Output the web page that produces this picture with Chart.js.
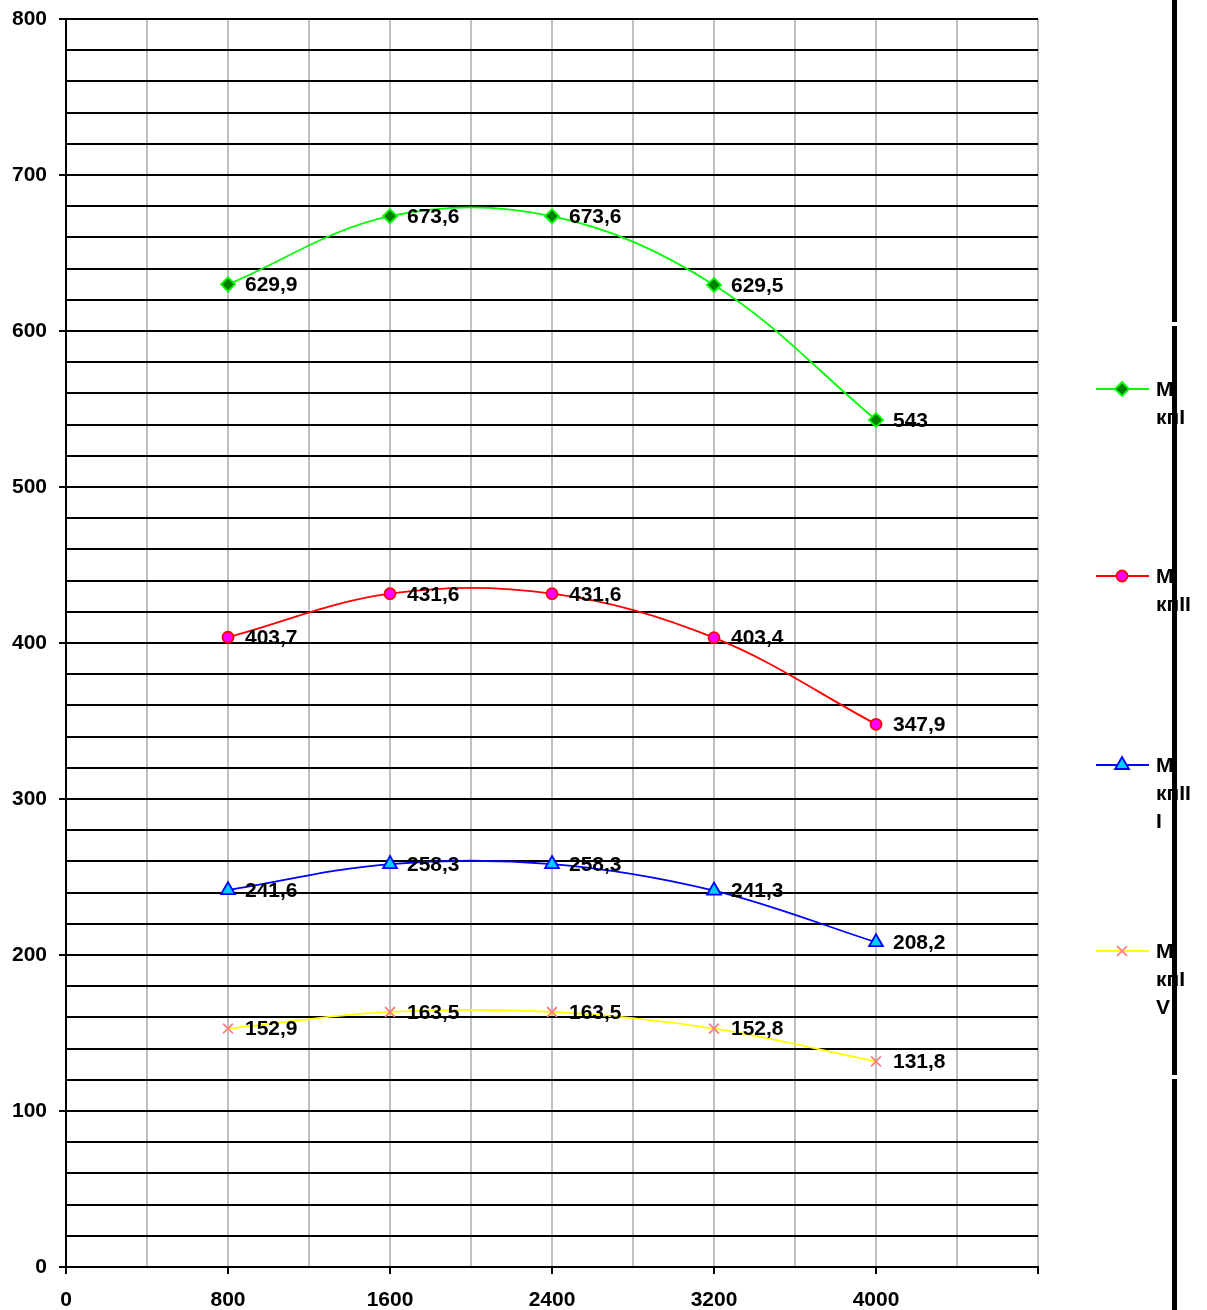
<!DOCTYPE html>
<html>
<head>
<meta charset="utf-8">
<title>М кп</title>
<script src="https://cdn.jsdelivr.net/npm/chart.js@4/dist/chart.umd.min.js"></script>
<style>
  html, body { margin: 0; padding: 0; background: #ffffff; }
  #wrap { position: relative; width: 1207px; height: 1310px; }
</style>
</head>
<body>
<div id="wrap"><canvas id="chart"></canvas></div>
<script>
// Engine speed, rpm
const speeds = [800, 1600, 2400, 3200, 4000];

// Torque per gear
const gear1 = [629.9, 673.6, 673.6, 629.5, 543];
const gear2 = [403.7, 431.6, 431.6, 403.4, 347.9];
const gear3 = [241.6, 258.3, 258.3, 241.3, 208.2];
const gear4 = [152.9, 163.5, 163.5, 152.8, 131.8];

const seriesNames = ['М кпI', 'М кпII', 'М кпIII', 'М кпIV'];

const FONT = '"Liberation Sans", Arial, sans-serif';
const FONT_SIZE = 21;

function toPoints(values) {
  return speeds.map((s, i) => ({ x: s, y: values[i] }));
}

const styles = [
  { line: '#00ff00', fill: '#008000', border: '#00ff00', shape: 'rectRot', r: 7 },
  { line: '#ff0000', fill: '#ff00ff', border: '#ff0000', shape: 'circle', r: 5.5 },
  { line: '#0000ff', fill: '#00ccff', border: '#0000ff', shape: 'triangle', r: 8 },
  { line: '#ffff00', fill: '#ff8080', border: '#ff8080', shape: 'crossRot', r: 7 }
];
const seriesValues = [gear1, gear2, gear3, gear4];

const datasets = seriesValues.map((vals, i) => ({
  label: seriesNames[i],
  data: toPoints(vals),
  borderColor: styles[i].line,
  borderWidth: 1.8,
  backgroundColor: styles[i].fill,
  pointStyle: styles[i].shape,
  pointRadius: styles[i].r,
  pointBackgroundColor: styles[i].fill,
  pointBorderColor: styles[i].border,
  pointBorderWidth: 1.8,
  tension: 0.36,
  fill: false
}));

function fmt(v) {
  return String(v).replace('.', ',');
}

// Value labels beside each marker
const valueLabels = {
  id: 'valueLabels',
  afterDatasetsDraw(chart) {
    const ctx = chart.ctx;
    ctx.save();
    ctx.font = 'bold ' + FONT_SIZE + 'px ' + FONT;
    ctx.fillStyle = '#000000';
    ctx.textAlign = 'left';
    ctx.textBaseline = 'middle';
    chart.data.datasets.forEach((ds, di) => {
      const meta = chart.getDatasetMeta(di);
      meta.data.forEach((pt, i) => {
        ctx.fillText(fmt(ds.data[i].y), pt.x + 17, pt.y + 1);
      });
    });
    ctx.restore();
  }
};

function drawMarker(ctx, shape, x, y, r, fill, stroke) {
  ctx.save();
  ctx.fillStyle = fill;
  ctx.strokeStyle = stroke;
  ctx.lineWidth = 1.8;
  ctx.beginPath();
  if (shape === 'rectRot') {
    ctx.moveTo(x, y - r); ctx.lineTo(x + r, y); ctx.lineTo(x, y + r); ctx.lineTo(x - r, y);
    ctx.closePath(); ctx.fill(); ctx.stroke();
  } else if (shape === 'circle') {
    ctx.arc(x, y, r, 0, Math.PI * 2); ctx.fill(); ctx.stroke();
  } else if (shape === 'triangle') {
    ctx.moveTo(x, y - r); ctx.lineTo(x + r * 0.87, y + r * 0.5); ctx.lineTo(x - r * 0.87, y + r * 0.5);
    ctx.closePath(); ctx.fill(); ctx.stroke();
  } else if (shape === 'crossRot') {
    const d = r * 0.707;
    ctx.moveTo(x - d, y - d); ctx.lineTo(x + d, y + d);
    ctx.moveTo(x + d, y - d); ctx.lineTo(x - d, y + d);
    ctx.stroke();
  }
  ctx.restore();
}

function wrapText(ctx, text, maxW) {
  const lines = [];
  let cur = '';
  text.split(' ').forEach(word => {
    const cand = cur ? cur + ' ' + word : word;
    if (ctx.measureText(cand).width <= maxW) { cur = cand; return; }
    if (cur) lines.push(cur);
    cur = '';
    for (const ch of word) {
      if (ctx.measureText(cur + ch).width > maxW && cur) { lines.push(cur); cur = ch; }
      else cur += ch;
    }
  });
  if (cur) lines.push(cur);
  return lines;
}

// Legend in a narrow column at the right, plus the frame stroke
const sideLegend = {
  id: 'sideLegend',
  afterDraw(chart) {
    const ctx = chart.ctx;
    const rows = [389, 576, 765, 951];
    ctx.save();
    ctx.font = 'bold ' + FONT_SIZE + 'px ' + FONT;
    ctx.textBaseline = 'middle';
    ctx.textAlign = 'left';
    chart.data.datasets.forEach((ds, i) => {
      const y = rows[i];
      ctx.strokeStyle = ds.borderColor;
      ctx.lineWidth = 1.8;
      ctx.beginPath();
      ctx.moveTo(1096, y); ctx.lineTo(1149, y);
      ctx.stroke();
      drawMarker(ctx, ds.pointStyle, 1122, y, ds.pointRadius, ds.pointBackgroundColor, ds.pointBorderColor);
      ctx.fillStyle = '#000000';
      const lines = wrapText(ctx, ds.label, 38);
      lines.forEach((ln, k) => ctx.fillText(ln, 1156, y + 1 + k * 28));
    });
    ctx.fillStyle = '#000000';
    ctx.fillRect(1172, 0, 5, 322);
    ctx.fillRect(1172, 326, 5, 749);
    ctx.fillRect(1172, 1079, 5, 231);
    ctx.restore();
  }
};

new Chart(document.getElementById('chart'), {
  type: 'line',
  data: { datasets },
  options: {
    responsive: true,
    maintainAspectRatio: false,
    animation: false,
    layout: { padding: { top: 19, right: 169, left: 0, bottom: 0 } },
    plugins: {
      legend: { display: false },
      tooltip: { enabled: false }
    },
    scales: {
      x: {
        type: 'linear',
        min: 0,
        max: 4800,
        afterFit(scale) { scale.height = 43; scale.paddingLeft = 0; scale.paddingRight = 0; },
        ticks: {
          stepSize: 400,
          autoSkip: false,
          maxRotation: 0,
          padding: 14,
          color: '#000000',
          font: { family: FONT, size: FONT_SIZE, weight: 'bold' },
          callback(v) { return (v % 800 === 0 && v < 4800) ? String(v) : ''; }
        },
        grid: {
          color: '#c0c0c0',
          lineWidth: 2,
          tickLength: 7,
          tickColor(ctx) { return (ctx.tick && ctx.tick.value % 800 === 0) ? '#000000' : 'rgba(0,0,0,0)'; },
          tickWidth: 2
        },
        border: { color: '#000000', width: 2 }
      },
      y: {
        min: 0,
        max: 800,
        afterFit(scale) { scale.width = 66; scale.paddingTop = 0; scale.paddingBottom = 0; },
        ticks: {
          stepSize: 20,
          autoSkip: false,
          padding: 12,
          color: '#000000',
          font: { family: FONT, size: FONT_SIZE, weight: 'bold' },
          callback(v) { return v % 100 === 0 ? String(v) : ''; }
        },
        grid: {
          color: '#000000',
          lineWidth: 2,
          tickLength: 7,
          tickColor(ctx) { return (ctx.tick && ctx.tick.value % 100 === 0) ? '#000000' : 'rgba(0,0,0,0)'; },
          tickWidth: 2
        },
        border: { color: '#000000', width: 2 }
      }
    }
  },
  plugins: [valueLabels, sideLegend]
});
</script>
</body>
</html>
